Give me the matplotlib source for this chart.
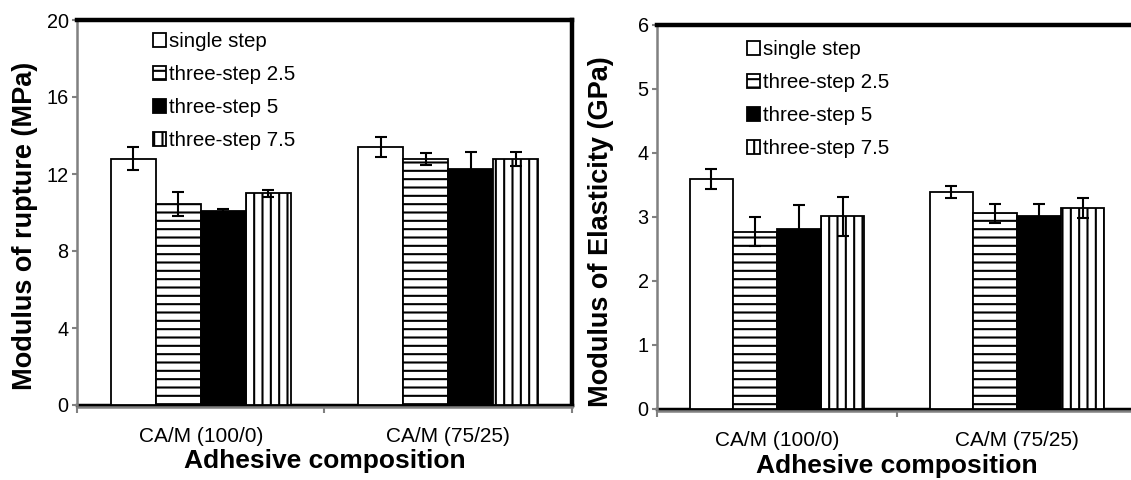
import matplotlib
matplotlib.use("Agg")
import matplotlib.pyplot as plt
import numpy as np
from matplotlib.ticker import FixedLocator

plt.rcParams['font.family'] = ['Liberation Sans', 'DejaVu Sans']
plt.rcParams['hatch.linewidth'] = 1.5

categories = ["CA/M (100/0)", "CA/M (75/25)"]
series = ["single step", "three-step 2.5", "three-step 5", "three-step 7.5"]

mor_vals = {
    "single step": [12.8, 13.4],
    "three-step 2.5": [10.45, 12.78],
    "three-step 5": [10.08, 12.28],
    "three-step 7.5": [11.0, 12.78],
}
mor_err = {
    "single step": [0.6, 0.5],
    "three-step 2.5": [0.62, 0.32],
    "three-step 5": [0.1, 0.87],
    "three-step 7.5": [0.18, 0.35],
}
moe_vals = {
    "single step": [3.59, 3.39],
    "three-step 2.5": [2.77, 3.06],
    "three-step 5": [2.81, 3.01],
    "three-step 7.5": [3.01, 3.14],
}
moe_err = {
    "single step": [0.16, 0.1],
    "three-step 2.5": [0.23, 0.15],
    "three-step 5": [0.38, 0.2],
    "three-step 7.5": [0.31, 0.15],
}

styles = {
    "single step": dict(facecolor="white", hatch=None),
    "three-step 2.5": dict(facecolor="white", hatch="--"),
    "three-step 5": dict(facecolor="black", hatch=None),
    "three-step 7.5": dict(facecolor="white", hatch="||"),
}

fig = plt.figure(figsize=(11.31, 4.8), dpi=100)
W, H = 1131, 480


def panel(px, vals, errs, ylim, yticks, ylabel, legend_anchor,
          ylabel_pos, xlabel_y, xtick_y):
    l, r, t, b = px
    ax = fig.add_axes([l / W, (H - b) / H, (r - l) / W, (b - t) / H])
    x = np.arange(len(categories))
    bw = 0.182
    for i, s in enumerate(series):
        pos = x + (i - 1.5) * bw
        st = styles[s]
        ax.bar(pos, vals[s], width=bw, facecolor=st["facecolor"],
               edgecolor="black", linewidth=1.3, hatch=st["hatch"],
               label=s, zorder=2)
        ax.errorbar(pos, vals[s], yerr=errs[s], fmt="none", ecolor="black",
                    elinewidth=1.5, capsize=4.3, capthick=1.5, zorder=3)
    ax.set_xlim(-0.5, 1.5)
    ax.set_ylim(*ylim)
    ax.set_yticks(yticks)
    ax.set_yticklabels([str(t) for t in yticks])
    ax.set_xticks(x)
    ax.set_xticklabels(categories)
    ax.tick_params(axis="x", which="major", length=0,
                   pad=(xtick_y - b) * 0.72 - 7.5, labelsize=15)
    ax.xaxis.set_minor_locator(FixedLocator([-0.5, 0.5, 1.5]))
    ax.tick_params(axis="x", which="minor", length=4, width=1.5,
                   color="#808080", direction="out")
    ax.tick_params(axis="y", length=3.5, width=1.5, color="#808080",
                   direction="out", pad=2.5, labelsize=14.3)
    for side in ("top", "right"):
        ax.spines[side].set_color("black")
        ax.spines[side].set_linewidth(3.2)
    ax.spines["left"].set_color("#808080")
    ax.spines["left"].set_linewidth(1.8)
    ax.spines["bottom"].set_color("#808080")
    ax.spines["bottom"].set_linewidth(1.8)
    ax.spines["bottom"].set_position(("outward", 1.5))
    ax.axhline(0, color="black", linewidth=2.5, zorder=1, clip_on=False)
    ax.set_ylabel(ylabel, fontsize=19.5, fontweight="bold")
    ax.yaxis.set_label_coords((ylabel_pos[0] - l) / (r - l),
                              (b - ylabel_pos[1]) / (b - t))
    ax.yaxis.label.set_verticalalignment("center")
    ax.set_xlabel("Adhesive composition", fontsize=19, fontweight="bold")
    ax.xaxis.set_label_coords(0.5, -(xlabel_y - b) / (b - t))
    ax.xaxis.label.set_verticalalignment("center")
    ax.legend(loc="upper left",
              bbox_to_anchor=((legend_anchor[0] - l) / (r - l),
                              (b - legend_anchor[1]) / (b - t)),
              frameon=False, fontsize=14.8, handlelength=0.65,
              handleheight=0.65, handletextpad=0.12, labelspacing=0.68,
              borderaxespad=0, borderpad=0)
    return ax


ax1 = panel((77, 572, 20, 405), mor_vals, mor_err, (0, 20),
            [0, 4, 8, 12, 16, 20], "Modulus of rupture (MPa)",
            (153, 32), (25, 226), 461, 435)

ax2 = panel((657, 1137, 25, 409), moe_vals, moe_err, (0, 6),
            [0, 1, 2, 3, 4, 5, 6], "Modulus of Elasticity (GPa)",
            (747, 40), (601, 232), 466, 439)

fig.savefig("out.png", dpi=100)
